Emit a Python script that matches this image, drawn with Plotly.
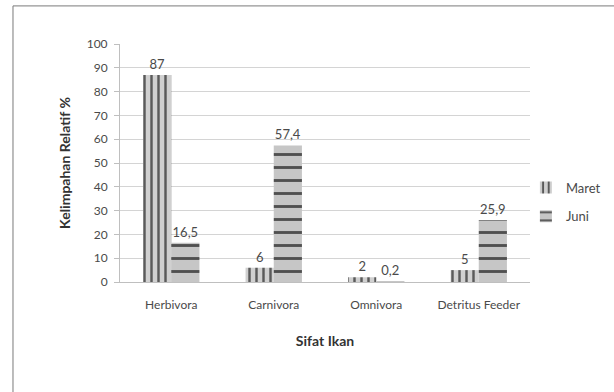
import plotly.graph_objects as go

# Fish feeding-habit groups and their relative abundance (%) per month
categories = ["Herbivora", "Carnivora", "Omnivora", "Detritus Feeder"]
maret = [87, 6, 2, 5]
juni = [16.5, 57.4, 0.2, 25.9]
y_ticks = [0, 10, 20, 30, 40, 50, 60, 70, 80, 90, 100]


def fmt(v):
    # Indonesian decimal comma
    return f"{v:g}".replace(".", ",")


FONT = "Lato, 'Open Sans', sans-serif"
TXT = "#4a4a4a"

fig = go.Figure()
fig.add_trace(go.Bar(
    name="Maret", x=categories, y=maret,
    text=[fmt(v) for v in maret], textposition="outside", cliponaxis=False,
    textfont=dict(size=13, color=TXT, family=FONT),
    legendgroup="a",
    marker=dict(color="#c4c4c4", line=dict(width=0),
                pattern=dict(shape="|", fgcolor="#5a5a5a", bgcolor="#d0d0d0",
                             size=7, solidity=0.35, fillmode="replace")),
))
fig.add_trace(go.Bar(
    name="Juni", x=categories, y=juni,
    text=[fmt(v) for v in juni], textposition="outside", cliponaxis=False,
    textfont=dict(size=13, color=TXT, family=FONT),
    legendgroup="b",
    marker=dict(color="#bdbdbd", line=dict(width=0),
                pattern=dict(shape="-", fgcolor="#505050", bgcolor="#c6c6c6",
                             size=13, solidity=0.22, fillmode="replace")),
))

fig.update_layout(
    width=614, height=392,
    margin=dict(l=120, r=84, t=44, b=110, autoexpand=False),
    paper_bgcolor="white", plot_bgcolor="white",
    barmode="group", bargap=0.45, bargroupgap=0,
    separators=",.",
    font=dict(family=FONT, color=TXT, size=12),
    showlegend=True,
    legend=dict(x=0.99, y=0.46, xanchor="left", yanchor="top",
                font=dict(size=13, color=TXT, family=FONT),
                traceorder="grouped", tracegroupgap=9,
                itemwidth=30, bgcolor="rgba(0,0,0,0)"),
    xaxis=dict(
        showgrid=False, showline=True, linecolor="#bfbfbf", linewidth=1,
        ticks="", ticklabelstandoff=12,
        tickfont=dict(size=12, color=TXT, family=FONT),
        title=dict(text="<b>Sifat Ikan</b>", font=dict(size=14, color="#333", family=FONT),
                   standoff=24),
    ),
    yaxis=dict(
        range=[0, 100], tickvals=y_ticks,
        showgrid=True, gridcolor="#d4d4d4", gridwidth=1,
        showline=True, linecolor="#bfbfbf", linewidth=1,
        ticks="outside", ticklen=5, tickcolor="#bfbfbf",
        ticklabelstandoff=4,
        tickfont=dict(size=12, color=TXT, family=FONT),
        zeroline=False,
        title=dict(text="<b>Kelimpahan Relatif %</b>", font=dict(size=14, color="#333", family=FONT),
                   standoff=12),
    ),
)

# Outer chart-area border
fig.add_shape(type="rect", xref="paper", yref="paper",
              x0=-0.261, x1=1.6, y0=-0.8, y1=1.16,
              line=dict(color="#7a7a7a", width=1), fillcolor="rgba(0,0,0,0)",
              layer="below")

fig.write_html("out.html")
